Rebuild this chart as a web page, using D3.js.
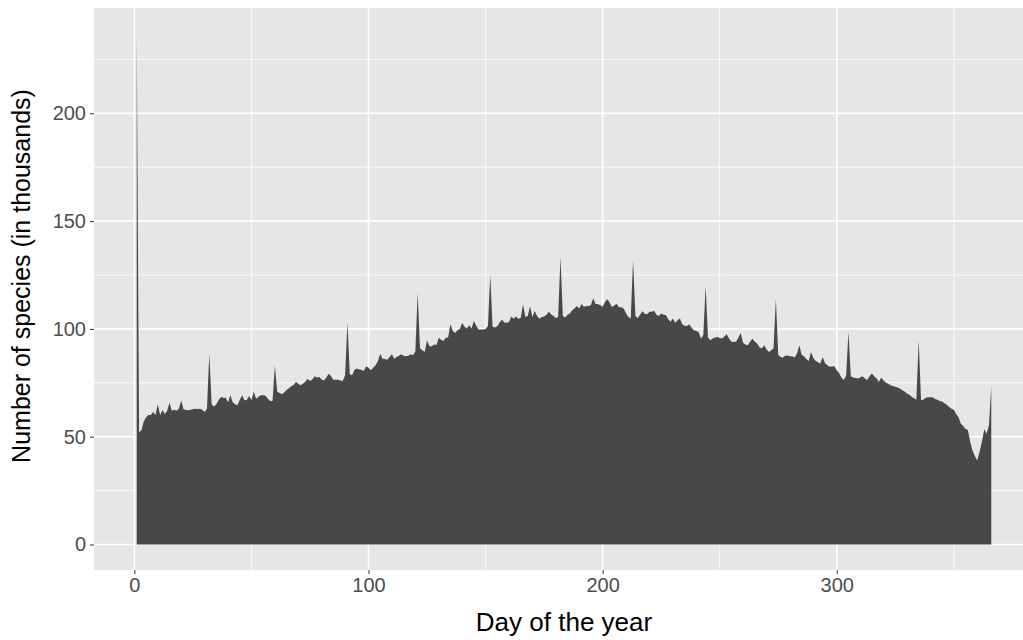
<!DOCTYPE html>
<html>
<head>
<meta charset="utf-8">
<script src="https://cdn.jsdelivr.net/npm/d3@7"></script>
<style>
  body { margin: 0; background: #fff; }
  svg { display: block; font-family: "Liberation Sans", Arial, sans-serif; }
</style>
</head>
<body>
<div id="chart"></div>
<script>
// species counts per day of year (thousands), day 1 .. 366
const firstDay = 1;
const speciesThousands = [
  237, 52, 53, 57, 59, 60, 60, 61.5, 60, 65,
  60, 62.4, 60.5, 62, 65.7, 62, 62.5, 62, 63, 66.8,
  62.6, 62.5, 62.2, 62.5, 62.7, 63, 62.8, 63, 62.5, 61.5,
  63, 88.5, 65, 64, 65, 67, 68.4, 68, 68, 66,
  69.2, 66, 65, 64.6, 67, 69.2, 66.9, 67, 68.9, 67,
  70.8, 67.6, 68.5, 69.2, 69.2, 69, 67.6, 66.5, 66.5, 83,
  71, 70.3, 69.7, 70.5, 71.6, 72.5, 73.4, 74, 75.4, 74.5,
  73.8, 74.5, 75.5, 76.9, 75.8, 76.5, 78, 77.5, 77.7, 76.5,
  76.1, 77.5, 79.2, 78, 76.4, 76.4, 76.4, 76, 75.8, 78.5,
  103, 79, 78.5, 81, 81.6, 81.1, 81, 80.5, 82.7, 82,
  80.8, 82, 83.1, 85, 88.5, 86.2, 86, 85.7, 87, 88.2,
  86.2, 87, 87.5, 88.2, 87.5, 87.3, 87.5, 88.2, 87.8, 89.5,
  116.5, 91, 90.1, 89.3, 94.7, 92, 91.9, 92.8, 92.5, 95.9,
  95, 94.4, 95.9, 96, 102.2, 99, 98.1, 99.4, 100, 102.8,
  101, 100.2, 101.7, 100.2, 103.7, 101.5, 99.7, 99.7, 99.7, 100,
  101.2, 125, 101, 100.6, 101.2, 103, 104.3, 103, 102.8, 103.2,
  105.8, 104.7, 105.8, 104.7, 105, 111.4, 105.5, 106, 110.5, 105.5,
  108.3, 106, 104.7, 105.5, 105.8, 106.5, 108, 106.8, 106, 105,
  105.5, 133.4, 106, 105.3, 106.5, 107.1, 108.7, 109.5, 110.6, 109.5,
  111.5, 110.3, 110.5, 110.6, 111.1, 114.2, 111.5, 111.5, 111, 110.3,
  112.5, 113.7, 112.2, 110, 111, 111.5, 110, 110, 109.5, 107.1,
  105.5, 104.8, 132, 106, 105.1, 106.5, 108.2, 107, 106.8, 107.9,
  108, 108.4, 106.5, 106, 107.1, 106.5, 106.4, 104.5, 103.3, 104.8,
  102.8, 104, 104.8, 102.1, 101.5, 101.3, 102.1, 100.5, 99.4, 99,
  98.6, 95.5, 97, 120, 96, 94.7, 95.5, 96, 96.2, 95.8,
  95.5, 96.5, 97.5, 95.5, 94, 94, 94, 96, 98.1, 93.5,
  92.8, 92.4, 94, 95.5, 94, 93.2, 91.5, 90.9, 92.4, 90.5,
  89.3, 90.1, 91, 114, 88, 87, 86.7, 87.5, 87.7, 87.3,
  87.3, 86.7, 88.5, 92.4, 88, 87.3, 86, 85.1, 89.3, 86.5,
  85.1, 84.5, 83.9, 87, 84, 83.1, 82.4, 82.5, 82.7, 80.8,
  79.5, 77.4, 76.3, 78.3, 98.6, 78, 77.4, 77.2, 77, 77.5,
  78, 77, 76.3, 78, 79.3, 78, 77, 75.4, 77.4, 76,
  75, 74.5, 73.9, 73.5, 73.2, 72.8, 72.4, 71.5, 70.9, 70,
  69.4, 68.5, 67.8, 67.1, 94.7, 67, 67.1, 68, 68.3, 68.3,
  68.3, 67.5, 67.1, 66.5, 66.3, 65.5, 64.8, 63.8, 63, 62.5,
  60.5, 59, 56, 54.9, 53.5, 53.1, 47.6, 43.5, 41, 39,
  43, 47.6, 53.4, 51.4, 55.3, 73
];
const xTicks = [0, 100, 200, 300];
const xMinor = [50, 150, 250, 350];
const yTicks = [0, 50, 100, 150, 200];
const yMinor = [25, 75, 125, 175, 225];
const xTitle = "Day of the year";
const yTitle = "Number of species (in thousands)";

const width = 1023, height = 640;
const panel = { left: 94, top: 8, right: 1034, bottom: 570 };

const data = speciesThousands.map((v, i) => ({ day: firstDay + i, value: v }));

// ggplot-style 5% expansion
const xExt = d3.extent(data, d => d.day);
const xPad = (xExt[1] - xExt[0]) * 0.05;
const yMax = d3.max(data, d => d.value);
const x = d3.scaleLinear()
  .domain([xExt[0] - xPad, xExt[1] + xPad])
  .range([panel.left, panel.right]);
const y = d3.scaleLinear()
  .domain([-yMax * 0.05, yMax * 1.05])
  .range([panel.bottom, panel.top]);

const svg = d3.select("#chart").append("svg")
  .attr("width", width)
  .attr("height", height);

svg.append("rect")
  .attr("x", panel.left).attr("y", panel.top)
  .attr("width", panel.right - panel.left)
  .attr("height", panel.bottom - panel.top)
  .attr("fill", "#e6e6e8");

const grid = svg.append("g");
grid.selectAll(".xminor").data(xMinor).enter().append("line")
  .attr("x1", d => x(d)).attr("x2", d => x(d))
  .attr("y1", panel.top).attr("y2", panel.bottom)
  .attr("stroke", "#fff").attr("stroke-width", 0.8);
grid.selectAll(".yminor").data(yMinor).enter().append("line")
  .attr("x1", panel.left).attr("x2", panel.right)
  .attr("y1", d => y(d)).attr("y2", d => y(d))
  .attr("stroke", "#fff").attr("stroke-width", 0.8);
grid.selectAll(".xmajor").data(xTicks).enter().append("line")
  .attr("x1", d => x(d)).attr("x2", d => x(d))
  .attr("y1", panel.top).attr("y2", panel.bottom)
  .attr("stroke", "#fff").attr("stroke-width", 1.6);
grid.selectAll(".ymajor").data(yTicks).enter().append("line")
  .attr("x1", panel.left).attr("x2", panel.right)
  .attr("y1", d => y(d)).attr("y2", d => y(d))
  .attr("stroke", "#fff").attr("stroke-width", 1.6);

const area = d3.area()
  .x(d => x(d.day))
  .y0(y(0))
  .y1(d => y(d.value));

svg.append("path")
  .datum(data)
  .attr("d", area)
  .attr("fill", "#48484a");

// axes
const xAxis = d3.axisBottom(x).tickValues(xTicks).tickSize(4).tickPadding(4);
const yAxis = d3.axisLeft(y).tickValues(yTicks).tickSize(4).tickPadding(4);

const gx = svg.append("g")
  .attr("transform", `translate(0,${panel.bottom})`)
  .call(xAxis);
const gy = svg.append("g")
  .attr("transform", `translate(${panel.left},0)`)
  .call(yAxis);

[gx, gy].forEach(g => {
  g.select(".domain").remove();
  g.selectAll(".tick line").attr("stroke", "#333").attr("stroke-width", 1);
  g.selectAll(".tick text")
    .attr("fill", "#4d4d4d")
    .style("font-size", "20px")
    .style("font-family", "'Liberation Sans', Arial, sans-serif");
});

svg.append("text")
  .attr("x", (panel.left + panel.right) / 2)
  .attr("y", 631)
  .attr("text-anchor", "middle")
  .attr("font-size", "26px")
  .attr("fill", "#000")
  .text(xTitle);

svg.append("text")
  .attr("transform", `translate(30,276) rotate(-90)`)
  .attr("text-anchor", "middle")
  .attr("font-size", "25px")
  .attr("fill", "#000")
  .text(yTitle);
</script>
</body>
</html>
